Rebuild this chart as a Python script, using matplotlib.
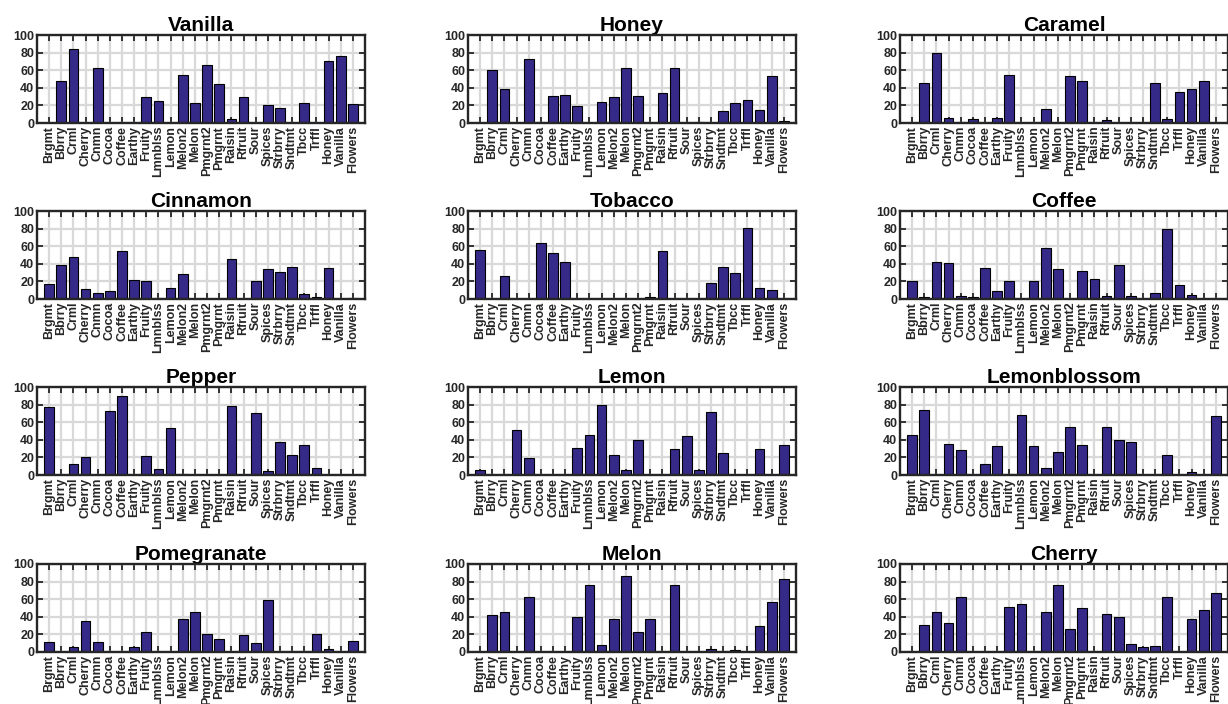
import numpy as np
import matplotlib
matplotlib.use('Agg')
import matplotlib.pyplot as plt

#===============================================================================
# setup matplotlib
#===============================================================================
matplotlib.rcParams['font.family'] = ['Liberation Sans', 'DejaVu Sans']
matplotlib.rcParams['font.weight'] = 'bold'
matplotlib.rcParams['font.size'] = 9

#===============================================================================
# data
#===============================================================================
categories = ['Brgmt', 'Bbrry', 'Crml', 'Cherry', 'Cnmn', 'Cocoa', 'Coffee', 'Earthy',
              'Fruity', 'Lmnblss', 'Lemon', 'Melon2', 'Melon', 'Pmgrnt2', 'Pmgrnt',
              'Raisin', 'Rfruit', 'Sour', 'Spices', 'Strbrry', 'Sndtmt', 'Tbcc',
              'Trffl', 'Honey', 'Vanilla', 'Flowers']

vanilla = [0, 48, 84, 0, 62, 0, 0, 0, 30, 25, 0, 55, 23, 66, 44, 5, 29, 0, 20, 17,
           0, 23, 0, 71, 76, 22]
honey = [0, 60, 39, 0, 73, 1, 31, 32, 19, 0, 24, 30, 62, 31, 0, 34, 62, 0, 1, 0,
         14, 23, 26, 15, 53, 2]
caramel = [0, 45, 79, 6, 1, 5, 0, 6, 55, 0, 0, 16, 0, 53, 48, 0, 3, 0, 0, 0,
           46, 5, 35, 39, 48, 0]
cinnamon = [17, 39, 48, 11, 7, 9, 54, 22, 21, 1, 12, 28, 0, 0, 0, 46, 0.5, 21, 34, 31,
            36, 6, 2, 35, 0, 1]
tobacco = [56, 0, 26, 0, 0, 64, 52, 42, 0, 0, 0, 0, 0, 0, 2, 55, 0, 0, 0.5, 18,
           36, 29, 81, 13, 10, 0]
coffee = [21, 2, 42, 41, 3, 2, 35, 9, 21, 0, 21, 58, 34, 0, 32, 23, 3, 39, 3, 0,
          7, 80, 16, 4, 0, 0]
pepper = [77, 0, 12, 21, 0, 73, 90, 0, 22, 7, 53, 1, 0, 0, 0.5, 78, 0, 71, 5, 37,
          23, 34, 8, 0, 0, 0]
lemon = [6, 0, 0, 51, 19, 0.5, 0, 0, 31, 46, 80, 23, 6, 40, 0, 0, 29, 44, 6, 72,
         25, 0, 0, 29, 0, 34]
lemonblossom = [45, 74, 0, 35, 28, 0, 12, 33, 1, 68, 33, 8, 26, 55, 34, 0, 55, 40, 37, 0,
                0, 23, 0, 3, 0, 67]
pomegranate = [11, 0, 6, 35, 11, 0, 0, 6, 23, 0, 0, 37, 46, 21, 15, 0, 19, 10, 59, 0,
               0, 0, 20, 3, 0, 12]
melon = [0, 42, 45, 0, 63, 0, 0, 0, 40, 76, 8, 38, 86, 23, 37, 0, 76, 0, 0, 3,
         0, 2, 0, 29, 57, 83]
cherry = [0, 31, 45, 33, 63, 0, 0, 0, 51, 55, 0, 46, 76, 26, 50, 0, 43, 40, 9, 6,
          7, 62, 0, 37, 48, 67]

titles = ['Vanilla', 'Honey', 'Caramel',
          'Cinnamon', 'Tobacco', 'Coffee',
          'Pepper', 'Lemon', 'Lemonblossom',
          'Pomegranate', 'Melon', 'Cherry']
series = [vanilla, honey, caramel,
          cinnamon, tobacco, coffee,
          pepper, lemon, lemonblossom,
          pomegranate, melon, cherry]

#===============================================================================
# figure setup
#===============================================================================
W, H = 1228, 704
fig = plt.figure(figsize=(W/100, H/100), dpi=100)

col_left = [37, 468, 900]  #pixel positions of the axes
row_top = [35, 211, 387, 564]
ax_w, ax_h = 328, 88

bar_color = '#352a87'
axis_color = '#262626'
x = np.arange(1, len(categories)+1)

for i, (title, vals) in enumerate(zip(titles, series)):
    r, c = divmod(i, 3)
    ax = fig.add_axes([col_left[c]/W, 1-(row_top[r]+ax_h)/H, ax_w/W, ax_h/H])

    ax.bar(x, vals, width=0.8, color=bar_color, edgecolor='black', linewidth=0.8, zorder=3)

    ax.set_xlim(0, len(categories)+1)
    ax.set_ylim(0, 100)
    ax.set_yticks(np.arange(0, 101, 20))
    ax.set_xticks(x)
    ax.set_xticklabels(categories, rotation=90, fontsize=9, fontweight='bold')

    #matlab style box
    ax.grid(True, color='#d9d9d9', linewidth=1.6, zorder=0)
    ax.set_axisbelow(True)
    ax.tick_params(direction='in', top=True, right=True, length=4.5, width=1.3,
                   colors=axis_color, labelsize=9, pad=2)
    for sp in ax.spines.values():
        sp.set_color(axis_color)
        sp.set_linewidth(1.7)
        sp.set_zorder(4)

    ax.set_title(title, fontsize=15, fontweight='bold', pad=3)

fig.savefig('out.png', dpi=100)
